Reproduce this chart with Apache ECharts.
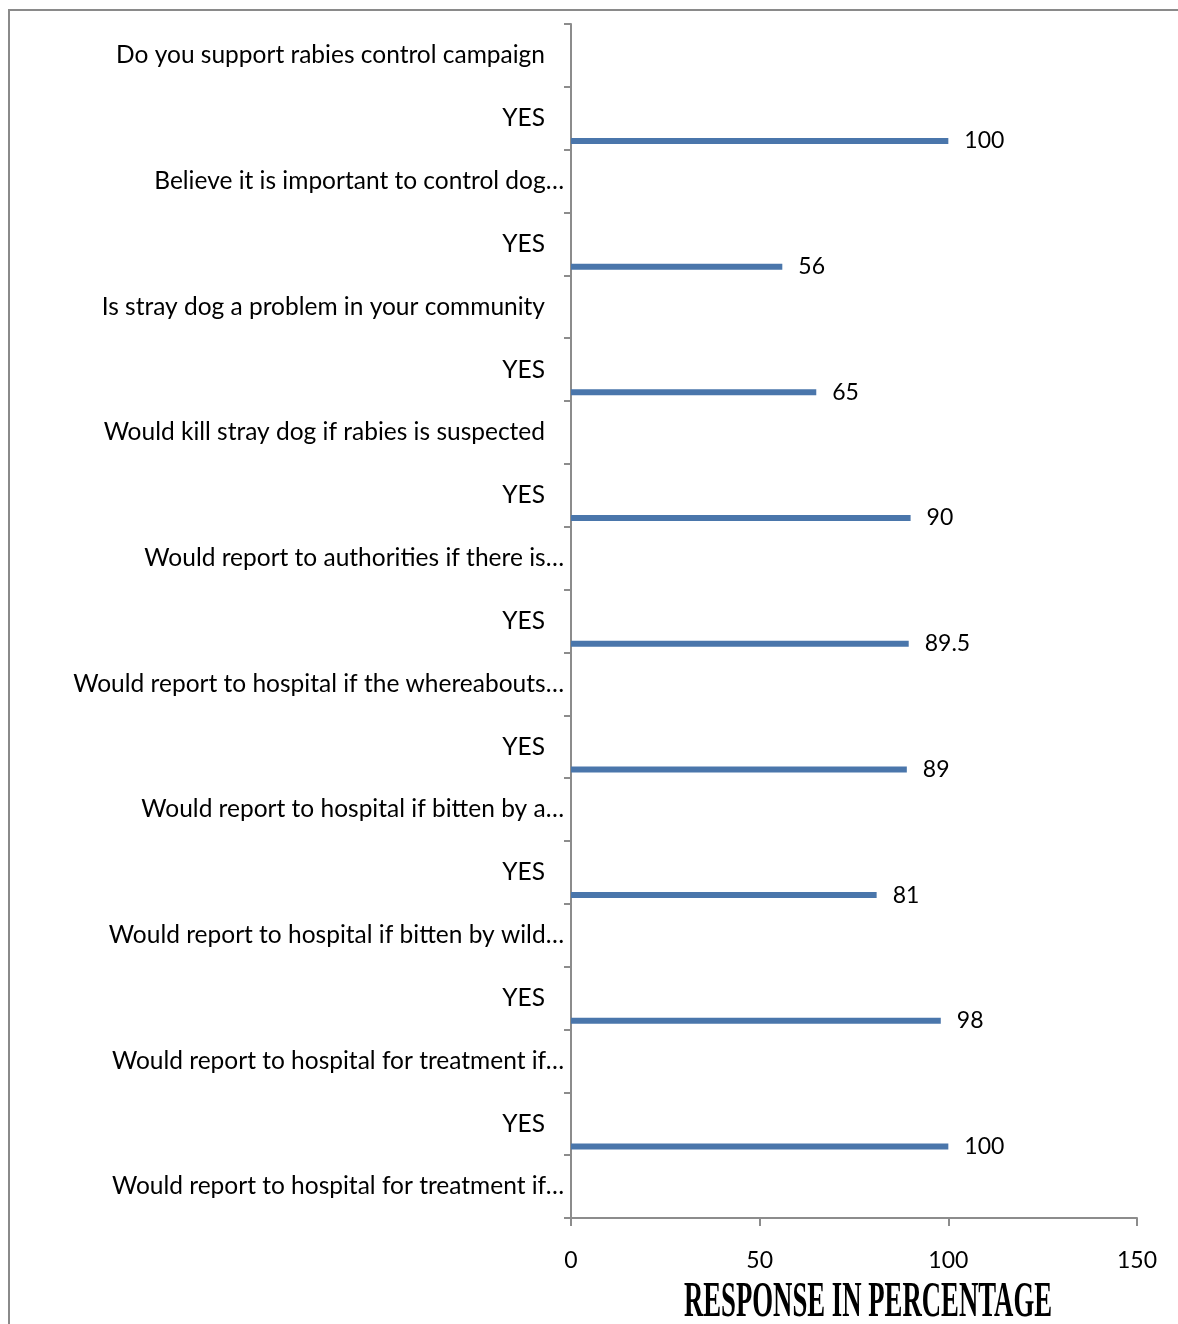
<!DOCTYPE html>
<html>
<head>
<meta charset="utf-8">
<script src="https://cdn.jsdelivr.net/npm/echarts@6/dist/echarts.min.js"></script>
<style>
html,body{margin:0;padding:0;background:#fff;}
#chart{width:1178px;height:1324px;}
</style>
</head>
<body>
<div id="chart"></div>
<script>
// Category labels (top to bottom)
const categories = [
  "Do you support rabies control campaign",
  "YES",
  "Believe it is important to control dog…",
  "YES",
  "Is stray dog a problem in your community",
  "YES",
  "Would kill stray dog if rabies is suspected",
  "YES",
  "Would report to authorities if there is…",
  "YES",
  "Would report to hospital if the whereabouts…",
  "YES",
  "Would report to hospital if bitten by a…",
  "YES",
  "Would report to hospital if bitten by wild…",
  "YES",
  "Would report to hospital for treatment if…",
  "YES",
  "Would report to hospital for treatment if…"
];
// YES response percentages (one per YES row, top to bottom)
const yesValues = [100, 56, 65, 90, 89.5, 89, 81, 98, 100];
const xTicks = [0, 50, 100, 150];
const axisTitle = "RESPONSE IN PERCENTAGE";

// map values onto YES rows
let k = 0;
const yesData = categories.map(c => (c === "YES" ? yesValues[k++] : '-'));
const emptyData = categories.map(() => '-');

const chart = echarts.init(document.getElementById('chart'));
const axisColor = '#8c8c8c';
const FONT = 'Lato';
chart.setOption({
  animation: false,
  backgroundColor: '#fff',
  grid: { left: 571, right: 41, top: 24, bottom: 106, containLabel: false },
  xAxis: {
    type: 'value', min: xTicks[0], max: xTicks[xTicks.length - 1], interval: 50,
    axisLine: { show: true, lineStyle: { color: axisColor, width: 2 } },
    axisTick: { show: true, length: 8, lineStyle: { color: axisColor, width: 2 } },
    splitLine: { show: false },
    axisLabel: { margin: 31, fontFamily: FONT, fontSize: 23, color: '#000' }
  },
  yAxis: {
    type: 'category', inverse: true, data: categories,
    axisLine: { show: true, lineStyle: { color: axisColor, width: 2 } },
    axisTick: { show: true, length: 7, alignWithLabel: false, lineStyle: { color: axisColor, width: 2 } },
    axisLabel: {
      interval: 0, margin: 7, fontFamily: FONT, fontSize: 24.5, color: '#000',
      formatter: v => v.endsWith('…') ? v : v + '{sp| }',
      rich: { sp: { width: 19, fontFamily: FONT, fontSize: 24.5 } }
    }
  },
  series: [
    { type: 'bar', name: 'blank', data: emptyData, barWidth: 6, barGap: '657%' },
    {
      type: 'bar', name: 'YES', data: yesData, barWidth: 6, barGap: '657%',
      itemStyle: { color: '#4a76ab' },
      label: { show: true, position: 'right', distance: 16, fontFamily: FONT, fontSize: 23, color: '#000' }
    }
  ],
  graphic: [
    { type: 'rect', z: -1, silent: true, shape: { x: 9, y: 10, width: 1300, height: 1400 },
      style: { fill: 'none', stroke: '#8a8a8a', lineWidth: 2 } },
    { type: 'text', x: 868, y: 1303, scaleX: 0.535, silent: true,
      style: { text: axisTitle, fontFamily: 'Liberation Serif', fontWeight: 'bold', fontSize: 50,
               fill: '#000', align: 'center', verticalAlign: 'middle' } }
  ]
});
</script>
</body>
</html>
